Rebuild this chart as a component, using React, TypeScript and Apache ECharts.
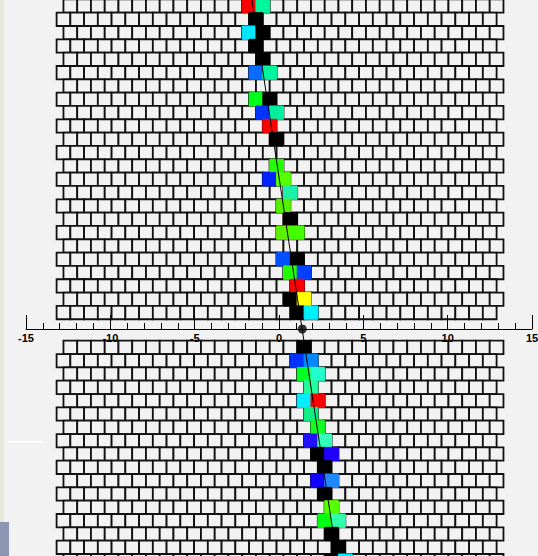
import React, { useEffect, useRef } from "react";
import * as echarts from "echarts";

// ---- data ----
const AXIS_MIN = -15;
const AXIS_MAX = 15;
const AXIS_INTERVAL = 5;
const ROWS_ABOVE = 24;
const ROWS_BELOW = 17;
const BRICKS_PER_ROW = 32;

// coloured bricks along the path: [row (0 = top), column, colour]
const PATH_BRICKS: [number, number, string][] = [
  [0, 13, "#ff0000"], [0, 14, "#00f59c"],
  [1, 14, "#000000"],
  [2, 13, "#00e8ff"], [2, 14, "#000000"],
  [3, 14, "#000000"],
  [4, 14, "#000000"],
  [5, 14, "#0a6cff"], [5, 15, "#00f59c"],
  [7, 14, "#00ff1a"], [7, 15, "#000000"],
  [8, 14, "#0033ff"], [8, 15, "#00f0a0"],
  [9, 15, "#ff0000"],
  [10, 15, "#000000"],
  [12, 15, "#22ff00"],
  [13, 15, "#0022ff"], [13, 16, "#55ff00"],
  [14, 16, "#1ef0a8"],
  [15, 16, "#55f000"],
  [16, 16, "#000000"],
  [17, 16, "#5cf000"], [17, 17, "#44ff00"],
  [19, 16, "#0050ff"], [19, 17, "#000000"],
  [20, 16, "#22ff00"], [20, 17, "#0040ff"],
  [21, 17, "#ff0000"],
  [22, 16, "#000000"], [22, 17, "#ffff00"],
  [23, 17, "#000000"], [23, 18, "#00f0ff"],
  [24, 17, "#000000"],
  [25, 17, "#0033ff"], [25, 18, "#0088ff"],
  [26, 17, "#00ff22"], [26, 18, "#22ffcc"],
  [27, 18, "#22ff99"],
  [28, 17, "#00eeff"], [28, 18, "#ff0000"],
  [29, 18, "#11ee88"],
  [30, 18, "#11ff22"],
  [31, 18, "#2211ff"], [31, 19, "#33ffbb"],
  [32, 18, "#000000"], [32, 19, "#2200ff"],
  [33, 19, "#000000"],
  [34, 18, "#1100ff"], [34, 19, "#2288ff"],
  [35, 19, "#000000"],
  [36, 19, "#55ff00"],
  [37, 19, "#00ff11"], [37, 20, "#33ffaa"],
  [38, 19, "#000000"],
  [39, 20, "#000000"],
  [40, 19, "#000000"], [40, 20, "#00eeff"],
];

const BALL_X = 1.38;
const TREND_X = [-1.6, 3.42]; // x at the top and at the bottom edge of the chart

// ---- layout ----
const Y_MAX = 24.68; // rows (13.33 px each) above the axis line
const Y_MIN = -17.03;
const GAP_ABOVE = 0.73;
const GAP_BELOW = 0.88;
const BRICK_AXIS_MIN = -2.225;
const BRICK_AXIS_MAX = 34.575;

function rowTop(r: number) {
  return r < ROWS_ABOVE ? GAP_ABOVE + (ROWS_ABOVE - r) : -GAP_BELOW - (r - ROWS_ABOVE);
}

function brickRect(api: any, r: number, c: number) {
  const off = r % 2 === 0 ? 0.5 : 0;
  const top = rowTop(r);
  const p0 = api.coord([c + off, top]);
  const p1 = api.coord([c + off + 1, top - 1]);
  return { x: p0[0], y: p0[1], width: p1[0] - p0[0], height: p1[1] - p0[1] };
}

export default function App() {
  const ref = useRef<HTMLDivElement>(null);
  useEffect(() => {
    if (!ref.current) return;
    const chart = echarts.init(ref.current, undefined, { renderer: "svg" });
    const wall: number[][] = [];
    for (let r = 0; r < ROWS_ABOVE + ROWS_BELOW; r++) {
      for (let c = 0; c < BRICKS_PER_ROW; c++) wall.push([r, c]);
    }
    chart.setOption({
      animation: false,
      backgroundColor: "#f2f2f2",
      grid: [
        { left: 26, right: 6, top: 0, bottom: 0, outerBoundsMode: "none", containLabel: false },
        { left: 26, right: 6, top: 328, height: 1, outerBoundsMode: "none", containLabel: false },
      ],
      xAxis: [
        { type: "value", gridIndex: 0, min: AXIS_MIN, max: AXIS_MAX, show: false },
        { type: "value", gridIndex: 0, min: BRICK_AXIS_MIN, max: BRICK_AXIS_MAX, show: false },
        {
          type: "value",
          gridIndex: 1,
          position: "bottom",
          min: AXIS_MIN,
          max: AXIS_MAX,
          interval: AXIS_INTERVAL,
          axisLine: { show: true, onZero: false, lineStyle: { color: "#000", width: 1 } },
          axisTick: { show: true, inside: true, length: 14, lineStyle: { color: "#000", width: 1 } },
          minorTick: { show: true, splitNumber: 5, length: 6, lineStyle: { color: "#000", width: 1 } },
          splitLine: { show: false },
          axisLabel: {
            color: "#000",
            fontWeight: "bold",
            fontSize: 11,
            fontFamily: "Liberation Sans, Arial, sans-serif",
            margin: 3,
          },
          z: 10,
        },
      ],
      yAxis: [
        { type: "value", gridIndex: 0, min: Y_MIN, max: Y_MAX, show: false },
        { type: "value", gridIndex: 1, min: 0, max: 1, show: false },
      ],
      graphic: [
        { type: "rect", left: 0, top: 0, shape: { width: 4, height: 556 }, style: { fill: "#e6e8d8" }, z: 100 },
        { type: "rect", left: 0, top: 522, shape: { width: 9, height: 34 }, style: { fill: "#8a96b2" }, z: 100 },
        { type: "rect", left: 8, top: 441, shape: { width: 35, height: 1.5 }, style: { fill: "#ffffff" }, z: 100 },
      ],
      series: [
        {
          type: "custom",
          xAxisIndex: 1,
          yAxisIndex: 0,
          data: wall,
          clip: false,
          silent: true,
          z: 1,
          renderItem: (_p: any, api: any) => ({
            type: "rect",
            shape: brickRect(api, api.value(0), api.value(1)),
            style: { fill: "#f2f2f2", stroke: "#111", lineWidth: 1.8 },
          }),
        },
        {
          type: "custom",
          xAxisIndex: 1,
          yAxisIndex: 0,
          data: PATH_BRICKS.map((b) => [b[0], b[1]]),
          clip: false,
          silent: true,
          z: 2,
          renderItem: (p: any, api: any) => {
            const col = PATH_BRICKS[p.dataIndex][2];
            return {
              type: "rect",
              shape: brickRect(api, api.value(0), api.value(1)),
              style: { fill: col, stroke: col, lineWidth: 1 },
            };
          },
        },
        {
          type: "line",
          xAxisIndex: 0,
          yAxisIndex: 0,
          data: [
            [TREND_X[0], Y_MAX],
            [TREND_X[1], Y_MIN],
          ],
          symbol: "none",
          lineStyle: { color: "#000", width: 1 },
          silent: true,
          z: 5,
        },
        {
          type: "scatter",
          xAxisIndex: 0,
          yAxisIndex: 0,
          data: [[BALL_X, 0]],
          symbolSize: 9,
          itemStyle: { color: "#000" },
          silent: true,
          z: 6,
        },
      ],
    });
    return () => chart.dispose();
  }, []);
  return (
    <div
      ref={ref}
      style={{ position: "fixed", left: 0, top: 0, width: 538, height: 556, background: "#f2f2f2" }}
    />
  );
}
